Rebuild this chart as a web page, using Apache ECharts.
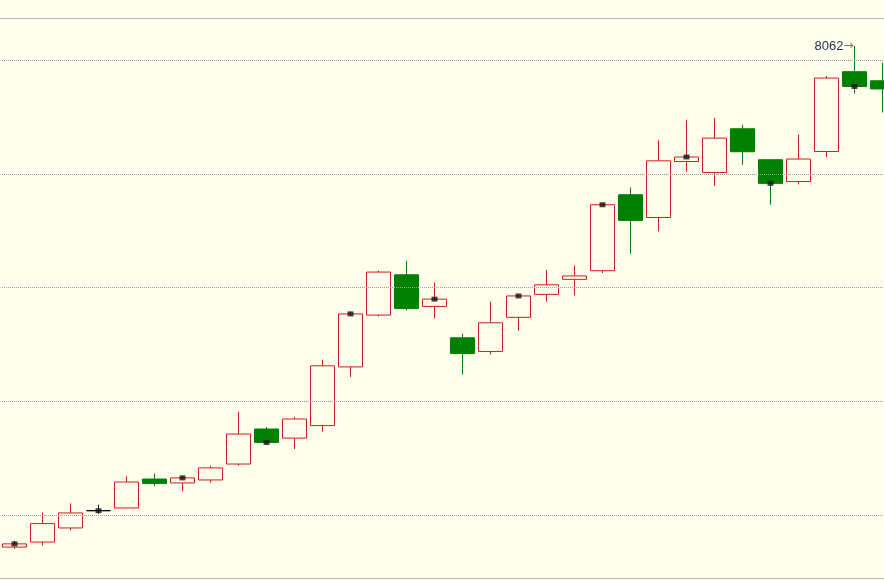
<!DOCTYPE html>
<html>
<head>
<meta charset="utf-8">
<script src="https://cdn.jsdelivr.net/npm/echarts@6/dist/echarts.min.js"></script>
<style>
html,body{margin:0;padding:0;background:#FFFFEE;}
#chart{width:884px;height:581px;}
</style>
</head>
<body>
<div id="chart"></div>
<script>
// Data
const categories = ['1','2','3','4','5','6','7','8','9','10','11','12','13','14','15','16',
  '17','18','19','20','21','22','23','24','25','26','27','28','29','30','31','32'];
const opens  = [5859,5881,5943,6019,6031,6158,6141,6154,6224,6378,6338,6393,6651,6879,7056,6917,
  6779,6719,6869,6970,7036,7074,7408,7308,7554,7506,7698,7562,7466,7598,7949,7909];
const closes = [5873,5962,6009,6019,6145,6139,6163,6207,6356,6319,6422,6656,6884,7068,6908,6949,
  6710,6845,6963,7012,7051,7364,7295,7557,7574,7657,7597,7458,7565,7921,7884,7873];
const lows   = [5851,5866,5932,6006,6031,6127,6104,6141,6217,6309,6290,6366,6607,6873,6899,6864,
  6618,6706,6810,6938,6965,7064,7149,7247,7509,7447,7540,7364,7453,7574,7853,7770];
const highs  = [5887,6011,6051,6045,6170,6182,6173,6217,6454,6387,6432,6683,6894,7074,7118,7022,
  6797,6938,6968,7078,7097,7368,7440,7647,7738,7746,7716,7562,7673,7930,8062,7989];
const gridValues = [6000, 6500, 7000, 7500, 8000];
const markerIdx = [0,3,6,9,12,15,18,21,24,27,30];
const peakIdx = 30;

const candleData = categories.map((c,i)=>[opens[i],closes[i],lows[i],highs[i]]);
const markerData = markerIdx.map(i=>[categories[i], closes[i]]);

const chart = echarts.init(document.getElementById('chart'));
chart.setOption({
  backgroundColor:'#FFFFEE',
  animation:false,
  grid:{left:0.5, top:18, right:-12.5, height:560, show:false, containLabel:false, outerBoundsMode:'none'},
  xAxis:[
    {type:'category', data:categories, boundaryGap:true, position:'bottom',
     axisLine:{show:true, lineStyle:{color:'#B4B4A6', width:1}},
     axisTick:{show:false}, axisLabel:{show:false}, splitLine:{show:false}},
    {type:'category', data:categories, boundaryGap:true, position:'top',
     axisLine:{show:true, lineStyle:{color:'#B4B4A6', width:1}},
     axisTick:{show:false}, axisLabel:{show:false}, splitLine:{show:false}}
  ],
  yAxis:{type:'value', min:5723, max:8185, show:false, splitLine:{show:false}},
  series:[
    {
      type:'candlestick',
      data:candleData,
      barWidth:24,
      itemStyle:{
        color:'#FFFFEE', color0:'#008000',
        borderColor:'#D01C1C', borderColor0:'#008000',
        borderColorDoji:'#000000', borderWidth:1
      },
      markLine:{
        silent:true, symbol:['none','none'], label:{show:false},
        lineStyle:{type:[1,1], dashOffset:0.5, color:'#A0A098', width:1},
        data:gridValues.map(v=>({yAxis:v}))
      },
      markPoint:{
        silent:true,
        symbol:'circle', symbolSize:0,
        data:[{coord:[categories[peakIdx], highs[peakIdx]], value:highs[peakIdx]}],
        label:{
          show:true, position:'left', distance:1,
          formatter:p=>'{v|'+p.value+'}{a|→}',
          rich:{
            v:{color:'#1E2E5A', fontSize:13, fontFamily:'Liberation Sans'},
            a:{color:'#707070', fontSize:12, fontFamily:'DejaVu Sans'}
          }
        }
      }
    },
    {
      type:'scatter',
      data:markerData,
      symbol:'rect', symbolSize:[6,5],
      itemStyle:{color:'#111111', borderColor:'#111111', borderWidth:0},
      z:5, silent:true
    }
  ]
});
</script>
</body>
</html>
